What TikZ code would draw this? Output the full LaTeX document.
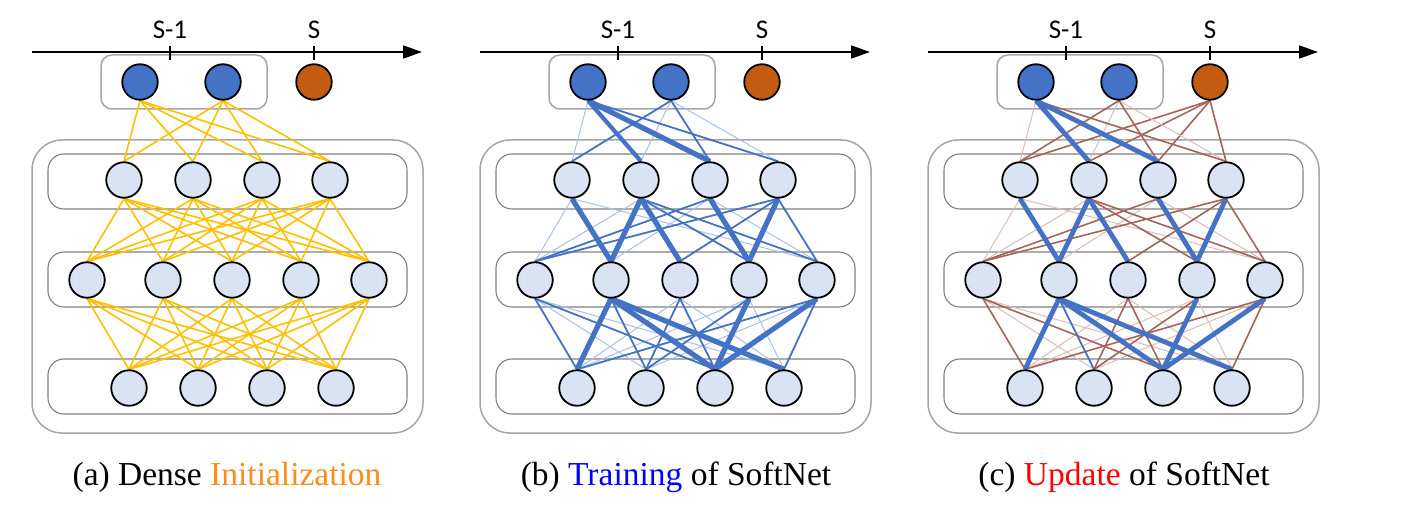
\documentclass[tikz,border=0pt]{standalone}
\usepackage{fontspec}
\setmainfont{Liberation Serif}
\newfontfamily\axfont{Carlito}
\usetikzlibrary{arrows.meta}
\definecolor{nodefill}{HTML}{DAE3F3}
\definecolor{nblue}{HTML}{4472C4}
\definecolor{norange}{HTML}{C55A11}
\definecolor{yel}{HTML}{FFC000}
\definecolor{brn}{HTML}{A5645A}
\definecolor{lbrn}{HTML}{DDBDB8}
\definecolor{lblue}{HTML}{A9C0EA}
\definecolor{capor}{HTML}{FF8C1A}
\definecolor{capblue}{HTML}{0000FF}
\definecolor{capred}{HTML}{FF0000}
\definecolor{boxout}{HTML}{A6A6A6}
\definecolor{boxin}{HTML}{7F7F7F}
\pgfdeclarelayer{bg}
\pgfdeclarelayer{edges}
\pgfsetlayers{bg,edges,main}
\newcommand\mkpanel[2]{%
\begin{scope}[xshift=#2pt]
\begin{pgfonlayer}{bg}
\draw[outerbox] (32,140) rectangle (423,433);
\draw[layerbox] (48,154) rectangle (407,209);
\draw[layerbox] (48,252) rectangle (407,307);
\draw[layerbox] (48,359) rectangle (407,414);
\draw[topbox] (101,55) rectangle (267,109);
\end{pgfonlayer}
\coordinate (#1ax0) at (32,52);
\coordinate (#1ax1) at (422,52);
\draw[axisline] (#1ax0) -- (#1ax1);
\node[axlabel] (#1Sm) at (170,39) {S-1};
\node[axlabel] (#1S) at (314,39) {S};
\coordinate (#1ta) at (170,46);
\coordinate (#1tb) at (170,60);
\coordinate (#1tc) at (314,46);
\coordinate (#1td) at (314,60);
\draw[tickline] (#1ta) -- (#1tb);
\draw[tickline] (#1tc) -- (#1td);
\node[neuron,fill=nblue] (#1T1) at (140,82) {};
\node[neuron,fill=nblue] (#1T2) at (223,82) {};
\node[neuron,fill=norange] (#1T3) at (314,82) {};
\foreach \x [count=\i] in {124,193,262,330} \node[neuron] (#1A\i) at (\x,180) {};
\foreach \x [count=\i] in {87,163,232,301,369} \node[neuron] (#1B\i) at (\x,280) {};
\foreach \x [count=\i] in {129,198,267,336} \node[neuron] (#1C\i) at (\x,388) {};
\end{scope}}
\newcommand\sparseedges[1]{%
\foreach \u/\v/\s in {T1/A1/W1, T2/A2/W1, T2/A4/W1, A1/B1/W1, A1/B5/W1, A2/B1/W1, A3/B2/W1, A3/B5/W1, B1/C2/W1, B1/C4/W1, B3/C1/W1, B3/C4/W1, B4/C1/W1, B4/C4/W1, B5/C2/W1,
 T1/A4/W2, T2/A1/W2, T2/A3/W2, A2/B4/W2, A2/B5/W2, A3/B1/W2, A4/B1/W2, A4/B3/W2, A4/B5/W2, B1/C1/W2, B1/C3/W2, B3/C2/W2, B3/C3/W2, B4/C2/W2, B5/C1/W2, B5/C4/W2, B2/C2/W2b,
 T1/A2/W3, T1/A3/W4, A1/B2/W4, A2/B2/W4, A2/B3/W4, A3/B4/W4, A4/B4/W4, B2/C1/W4, B2/C3/W4, B2/C4/W4, B4/C3/W4, B5/C3/W4}
 \draw[\s] (#1\u.south) -- (#1\v.north);}
\begin{document}
\begin{tikzpicture}[x=1pt,y=-1pt,
  neuron/.style={circle,draw=black,line width=1.8pt,fill=nodefill,minimum size=35.5pt,inner sep=0pt},
  outerbox/.style={draw=boxout,line width=1.5pt,rounded corners=30pt},
  layerbox/.style={draw=boxin,line width=1.1pt,rounded corners=16pt},
  topbox/.style={draw=boxout,line width=1.5pt,rounded corners=11pt},
  axisline/.style={draw=black,line width=1.8pt,-{Triangle[length=19pt,width=13pt]}},
  tickline/.style={draw=black,line width=1.8pt},
  axlabel/.style={anchor=base,inner sep=0pt,font=\axfont\fontsize{27}{30}\selectfont},
  caption/.style={anchor=base,inner sep=0pt,font=\fontsize{33.5}{38}\selectfont},
  dense/.style={draw=yel,line width=1.6pt}]
\useasboundingbox (0,0) rectangle (1402,510);
\mkpanel{a}{0}
\mkpanel{b}{448}
\mkpanel{c}{896}
\begin{pgfonlayer}{edges}
\foreach \u in {T1,T2} \foreach \v in {A1,A2,A3,A4} \draw[dense] (a\u.south) -- (a\v.north);
\foreach \u in {A1,A2,A3,A4} \foreach \v in {B1,B2,B3,B4,B5} \draw[dense] (a\u.south) -- (a\v.north);
\foreach \u in {B1,B2,B3,B4,B5} \foreach \v in {C1,C2,C3,C4} \draw[dense] (a\u.south) -- (a\v.north);
\begin{scope}[W1/.style={draw=lblue,line width=1pt},
  W2/.style={draw=nblue,line width=1.8pt},
  W2b/.style={draw=nblue,line width=1.8pt},
  W3/.style={draw=nblue,line width=4.2pt},
  W4/.style={draw=nblue,line width=5.2pt}]
\sparseedges{b}
\end{scope}
\begin{scope}[W1/.style={draw=lbrn,line width=1pt},
  W2/.style={draw=brn,line width=1.6pt},
  W2b/.style={draw=nblue,line width=1.8pt},
  W3/.style={draw=nblue,line width=4.8pt},
  W4/.style={draw=nblue,line width=4.8pt}]
\foreach \v in {A1,A2,A3,A4} \draw[W2] (cT3.south) -- (c\v.north);
\sparseedges{c}
\end{scope}
\end{pgfonlayer}
\node[caption] (capa) at (227,485) {(a) Dense \textcolor{capor}{Initialization}};
\node[caption] (capb) at (676,485) {(b) \textcolor{capblue}{Training} of SoftNet};
\node[caption] (capc) at (1124,485) {(c) \textcolor{capred}{Update} of SoftNet};
\end{tikzpicture}
\end{document}
